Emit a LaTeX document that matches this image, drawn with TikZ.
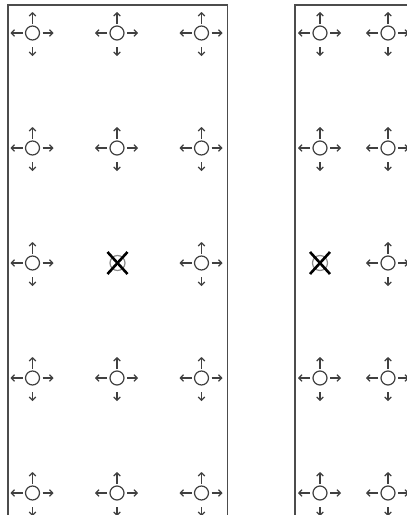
\documentclass[tikz,border=0pt]{standalone}
\usetikzlibrary{arrows.meta}
\tikzset{
  frameline/.style={draw=black!70, line width=1.4pt},
  cell/.style={circle, draw=black!75, line width=1.2pt, minimum size=14pt, inner sep=0pt},
  deadcell/.style={circle, draw=black!45, line width=1.2pt, minimum size=15pt, inner sep=0pt},
  dir/.style={draw=black!75, line width=1.2pt, -{Straight Barb[length=3.2pt,width=6.5pt,line width=1.2pt]}},
  cross/.style={draw=black, line width=2.6pt}
}
\newcommand{\flowcell}[3]{%
  \node[cell] (#1) at (#2,#3) {};
  \draw[dir] ([yshift=-14pt]#1.center) -- ([yshift=-23pt]#1.center);
  \draw[dir] ([yshift=9pt]#1.center) -- ([yshift=21pt]#1.center);
  \draw[dir] ([xshift=-10pt]#1.center) -- ([xshift=-22pt]#1.center);
  \draw[dir] ([xshift=10pt]#1.center) -- ([xshift=21pt]#1.center);
}
\newcommand{\blockcell}[3]{%
  \node[deadcell] (#1) at (#2,#3) {};
  \draw[cross] ([shift={(-10pt,-11pt)}]#1.center) -- ([shift={(10pt,11pt)}]#1.center);
  \draw[cross] ([shift={(-10pt,11pt)}]#1.center) -- ([shift={(10pt,-11pt)}]#1.center);
}
\begin{document}
\begin{tikzpicture}[x=1pt,y=-1pt]
\useasboundingbox (0,0) rectangle (407,515);
\clip (0,0) rectangle (407,515);
\fill[white] (0,0) rectangle (407,515);
% frames
\draw[frameline] (8,525) -- (8,5) -- (227.5,5) -- (227.5,525);
\draw[frameline] (295,525) -- (295,5) -- (415,5);
% cells
\foreach \r/\y in {1/33,2/148,3/263,4/378,5/493}{
  \flowcell{La\r}{32.5}{\y}
  \flowcell{Lc\r}{201.5}{\y}
  \flowcell{Rb\r}{388}{\y}
}
\foreach \r/\y in {1/33,2/148,4/378,5/493}{
  \flowcell{Lb\r}{117}{\y}
  \flowcell{Ra\r}{320}{\y}
}
\blockcell{Lb3}{117.5}{263}
\blockcell{Ra3}{320}{263}
\end{tikzpicture}
\end{document}
